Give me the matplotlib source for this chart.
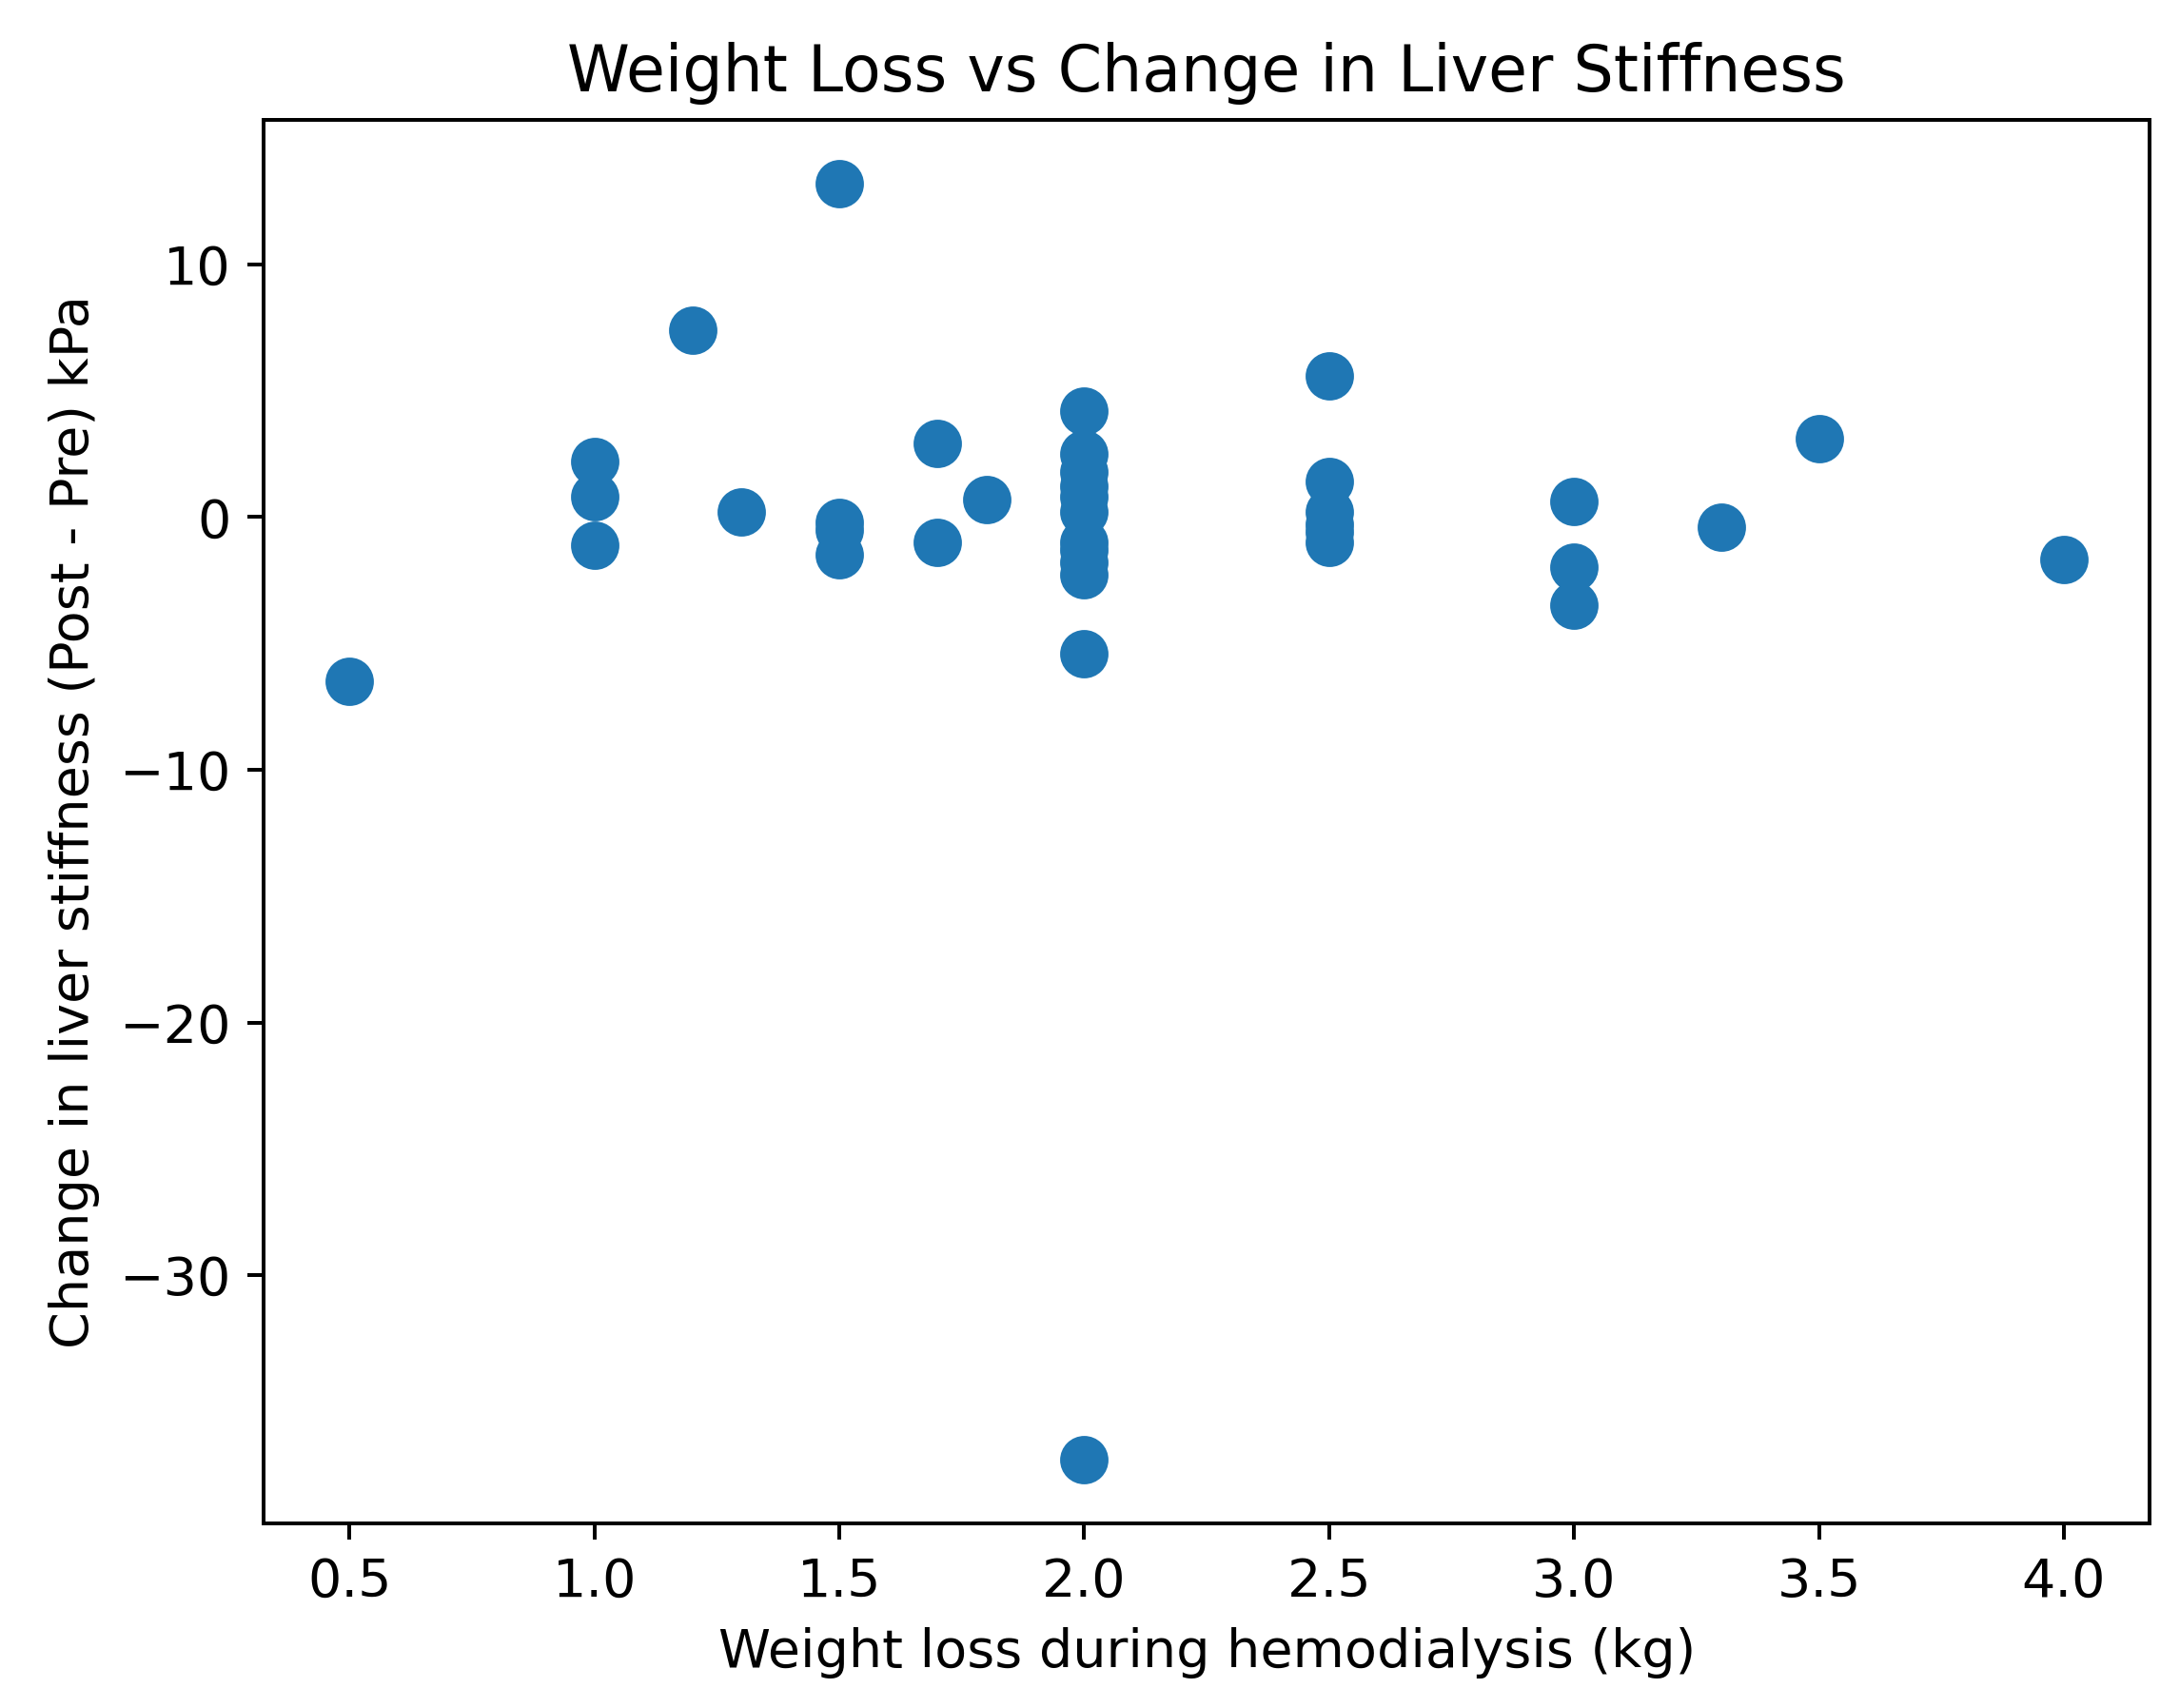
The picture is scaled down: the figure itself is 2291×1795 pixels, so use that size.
import matplotlib
matplotlib.use("Agg")
import matplotlib.pyplot as plt

weight_loss = [0.5, 1.0, 1.0, 1.0, 1.2, 1.3, 1.5, 1.5, 1.5, 1.5, 1.7, 1.7, 1.8,
               2.0, 2.0, 2.0, 2.0, 2.0, 2.0, 2.0, 2.0, 2.0, 2.0, 2.0, 2.0,
               2.5, 2.5, 2.5, 2.5, 2.5, 2.5,
               3.0, 3.0, 3.0, 3.3, 3.5, 4.0]
stiffness_change = [-6.5, 2.2, 0.8, -1.1, 7.4, 0.2, 13.2, -0.2, -0.5, -1.5, 2.9, -1.0, 0.7,
                    4.2, 2.5, 1.8, 1.2, 0.8, 0.2, -1.0, -1.3, -1.8, -2.3, -5.4, -37.3,
                    5.6, 1.4, 0.2, -0.3, -0.6, -1.0,
                    0.6, -2.0, -3.5, -0.4, 3.1, -1.7]

plt.rcParams["font.size"] = 11.2

fig, ax = plt.subplots(figsize=(6.4, 5.014), dpi=358)
ax.scatter(weight_loss, stiffness_change, s=85, color="#1f77b4")
ax.set_title("Weight Loss vs Change in Liver Stiffness", fontsize=13.4)
ax.set_xlabel("Weight loss during hemodialysis (kg)")
ax.set_ylabel("Change in liver stiffness (Post - Pre) kPa")
fig.subplots_adjust(left=0.121, right=0.986, top=0.93, bottom=0.108)
fig.savefig("out.png", dpi=358)
